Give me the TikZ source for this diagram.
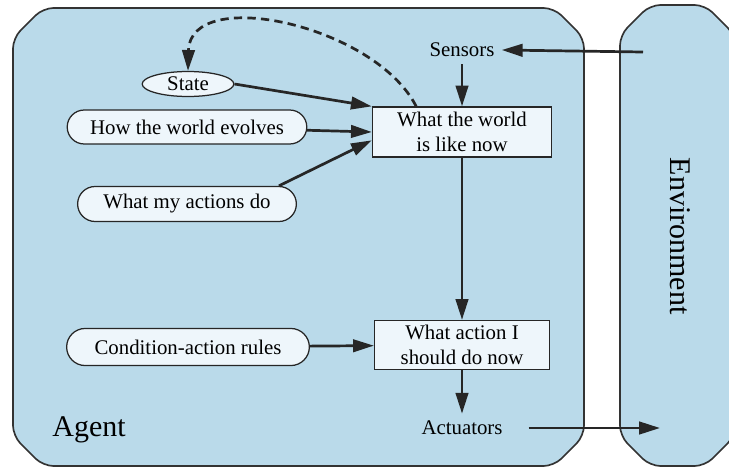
\documentclass[tikz,border=0pt]{standalone}
\usepackage{fontspec}
\setmainfont{Liberation Serif}
\usetikzlibrary{arrows.meta,shapes.geometric,shapes.misc}

\definecolor{agentblue}{RGB}{186,218,234}
\definecolor{nodefill}{RGB}{238,246,251}

\tikzset{
  >={Triangle[length=10pt,width=6pt]},
  conn/.style={->,line width=1.3pt,draw=black!85},
  frame/.style={draw=black!80,line width=0.8pt,fill=agentblue,rounded corners=5pt},
  pill/.style={rounded rectangle,draw=black!85,line width=0.6pt,fill=nodefill,inner sep=0pt},
  procbox/.style={rectangle,draw=black!85,line width=0.6pt,fill=nodefill,align=center,inner sep=0pt},
  oval/.style={ellipse,draw=black!85,line width=0.6pt,fill=nodefill,inner sep=0pt},
}

\begin{document}
\begin{tikzpicture}[x=0.48pt,y=-0.48pt]
\useasboundingbox (0,0) rectangle (729,468);
\clip (0,0) rectangle (729,468);

% agent and environment
\draw[frame] (13,38) -- (43,8) -- (554,8) -- (584,38) -- (584,436) -- (554,466) -- (43,466) -- (13,436) -- cycle;
\draw[frame] (620,35) -- (650,5) -- (705,5) -- (735,35) -- (735,436) -- (705,466) -- (650,466) -- (620,436) -- cycle;

\node (agent) at (89,430) {\Large Agent};
\node[rotate=-90] (env) at (680,236) {\Large Environment};

\node (sensors) at (462,50) {Sensors};
\node (actuators) at (462,428) {Actuators};
\coordinate (envin) at (643,52);
\coordinate (envout) at (660,428);

\node[procbox,minimum width=86pt,minimum height=24pt] (world) at (462,132) {What the world\\is like now};
\node[procbox,minimum width=84pt,minimum height=23.5pt] (decide) at (462,345) {What action I\\should do now};

\node[oval,minimum width=44pt,minimum height=12pt] (state) at (188,84) {State};
\node[pill,minimum width=115pt,minimum height=16.3pt] (evolves) at (187,127) {How the world evolves};
\node[pill,minimum width=105pt,minimum height=16.8pt] (actions) at (187,204) {What my actions do};
\node[pill,minimum width=116.5pt,minimum height=17.8pt] (rules) at (188,347) {Condition-action rules};

\draw[conn] (envin) -- (sensors.east);
\draw[conn] (sensors) -- (world);
\draw[conn] (state.east) -- (world.north west);
\draw[conn] (evolves) -- (world.west);
\draw[conn] (actions.north east) -- ([yshift=-4pt]world.west);
\draw[conn,dash pattern=on 4pt off 2.5pt] ([xshift=-22pt]world.north) .. controls (375,25) and (190,-15) .. (state.north);
\draw[conn] (world) -- (decide);
\draw[conn] (rules) -- (decide);
\draw[conn] (decide) -- (actuators);
\draw[conn,shorten <=9pt] (actuators.east) -- (envout);

\end{tikzpicture}
\end{document}
